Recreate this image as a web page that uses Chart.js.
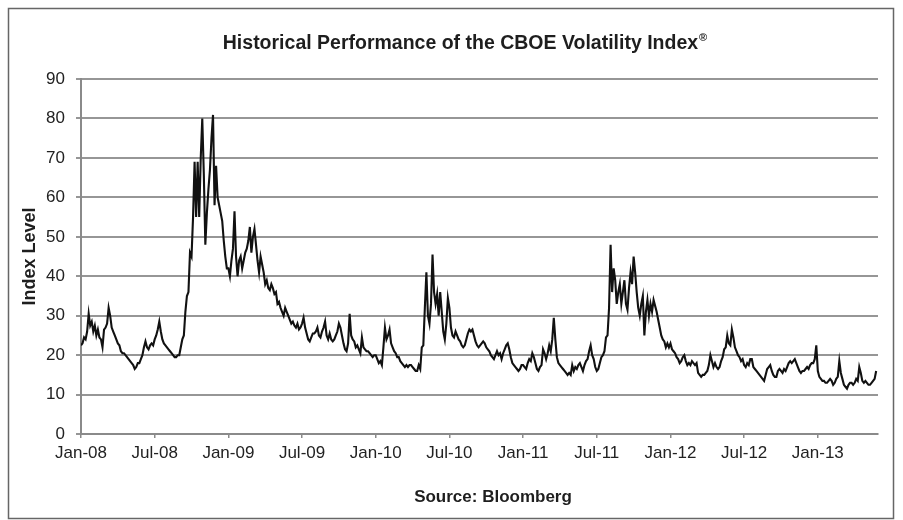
<!DOCTYPE html>
<html>
<head>
<meta charset="utf-8">
<script src="https://cdn.jsdelivr.net/npm/chart.js@4.4.0/dist/chart.umd.min.js"></script>
<style>
  html, body { margin: 0; padding: 0; background: #fff; }
</style>
</head>
<body>
<canvas id="vixChart" width="903" height="520"></canvas>
<script>
const FONT = '"Liberation Sans", Arial, sans-serif';
const chartTitle = 'Historical Performance of the CBOE Volatility Index';
const titleMark = '®';
const yTitle = 'Index Level';
const sourceNote = 'Source: Bloomberg';

// x axis: months since Jan-08, labelled every six months
const tickMonths = [0, 6, 12, 18, 24, 30, 36, 42, 48, 54, 60];
const tickLabels = ['Jan-08', 'Jul-08', 'Jan-09', 'Jul-09', 'Jan-10', 'Jul-10',
                    'Jan-11', 'Jul-11', 'Jan-12', 'Jul-12', 'Jan-13'];

// VIX readings, 8 per month
const vix2008 = [
  22.5, 23, 24.5, 24, 26, 30.5, 27.5, 28.5,
  26, 27.5, 25, 26.5, 24.5, 24, 22, 26.5,
  27, 28, 32, 30, 27, 26, 25, 24,
  23, 22.5, 21, 20.5, 20.5, 20, 19.5, 19,
  18.5, 18, 17.5, 16.5, 17, 18, 18, 19,
  20, 22, 23.5, 22, 21.5, 22.5, 23, 22.5,
  24, 25, 26.5, 28.5, 26, 24, 23, 22.5,
  22, 21.5, 21, 20.5, 20, 19.5, 19.5, 20,
  20, 22, 24, 25, 31, 35, 36, 46,
  45, 55, 69, 55, 69, 55, 70, 80,
  66, 48, 56, 62, 67, 75, 80.9, 58,
  68, 60, 58, 56, 54, 49, 45, 42
];
const vix2009 = [
  42, 40, 44, 47, 56.5, 45, 40, 44,
  45, 42, 44, 46, 47, 49, 52.5, 46,
  50, 52, 48, 44, 41, 45, 43, 41,
  38, 39, 37, 36.5, 38, 37, 35.5, 36,
  33, 33.5, 32, 31, 30, 32, 31, 30,
  29, 28, 28.5, 27.5, 27, 28, 26.5, 27,
  28, 29.5, 27, 25.5, 24, 23.5, 24.5, 25.5,
  25.5, 26, 27, 25, 24.5, 26, 27, 28.5,
  25, 24, 25.5, 24, 23.5, 24, 25, 26,
  28, 27, 25, 23, 21.5, 21, 23, 30.5,
  25, 24, 23.5, 22, 22.5, 21.5, 20.5, 24.5,
  22, 21.5, 21, 21, 20.5, 20, 19.5, 20
];
const vix2010 = [
  20, 19, 18, 18.5, 17.5, 22, 27, 24,
  25, 26.5, 23, 22, 21, 20.5, 19.5, 19.5,
  18.5, 18, 17.5, 17, 17.5, 17, 17.5, 17.5,
  17, 16.5, 16, 16, 17.5, 16.5, 22, 22.5,
  32, 41, 30, 28, 33, 45.5, 36, 33,
  35.5, 30, 36, 31, 26, 24, 28, 34.5,
  32, 27, 25, 24.5, 26, 25, 24, 23.5,
  22.5, 22, 22.5, 24, 25.5, 26.5, 26, 26.5,
  25, 23.5, 22.5, 22, 22.5, 23, 23.5, 23,
  22, 21.5, 21, 20, 19.5, 19, 20, 21,
  20, 20.5, 19, 20.5, 21.5, 22.5, 23, 21.5,
  19.5, 18, 17.5, 17, 16.5, 16, 16.5, 17.5
];
const vix2011 = [
  17.5, 17, 16.5, 18, 19, 18.5, 20.5, 19.5,
  18, 16.5, 16, 17, 17.5, 21.5, 20.5, 19,
  20.5, 22.5, 21, 24, 29.5, 24, 19.5, 18,
  17.5, 17, 16.5, 16, 15.5, 15, 15.5, 15,
  17.5, 16, 17, 16.5, 17.5, 18, 17, 16,
  17.5, 18.5, 19, 21, 22.5, 20, 19, 17,
  16, 16.5, 18, 19.5, 20, 21, 24.5, 25,
  32, 48, 36, 42, 39, 33, 36, 38,
  33, 36, 39, 33, 31.5, 37, 41, 38,
  45, 41, 36, 32, 30, 33, 35, 25,
  31, 34, 30, 33, 31, 34, 32.5, 31,
  29, 27, 25, 24, 23.5, 22, 23, 22
];
const vix2012 = [
  23, 21.5, 21, 20.5, 19.5, 19, 18, 18.5,
  19.5, 20, 18.5, 17.5, 18, 17.5, 18.5, 18,
  17.5, 18, 15.5, 15, 14.5, 15, 15, 15.5,
  16, 17.5, 20, 18.5, 17, 18, 17, 16.5,
  17, 18.5, 19.5, 21.5, 22, 25, 23, 22.5,
  26.5, 24.5, 22, 21, 20, 19.5, 18.5, 19,
  17.5, 17, 18, 17.5, 19, 19, 17, 16.5,
  16, 15.5, 15, 14.5, 14, 13.5, 15, 16.5,
  17, 17.5, 16, 15, 14.5, 14.5, 16, 16.5,
  16, 15.5, 16.5, 16, 17, 18, 18.5, 18,
  18.5, 19, 18, 17, 16, 15.5, 16, 16,
  16.5, 17, 16.5, 17.5, 18, 18, 19, 22.5
];
const vix2013 = [
  16, 14.5, 14, 13.5, 13.5, 13, 13, 13.5,
  14, 13.5, 12.5, 13, 14, 14.5, 18.5, 15.5,
  14, 12.5, 12, 11.5, 12.5, 13, 13, 12.5,
  13, 14, 13.5, 17, 15.5, 13.5, 13, 13.5,
  13, 12.5, 12.5, 13, 13.5, 14, 16
];
const yearSeries = [vix2008, vix2009, vix2010, vix2011, vix2012, vix2013];
const perMonth = 8;

const points = [];
yearSeries.forEach((vals, yi) => {
  vals.forEach((v, i) => points.push({ x: yi * 12 + i / perMonth, y: v }));
});

// where the two free-standing captions sit in the picture
const titlePos = { x: 465, y: 44 };
const sourcePos = { x: 493, y: 497 };

// white background and the thin frame round the picture
const framePlugin = {
  id: 'frame',
  beforeDraw(chart) {
    const ctx = chart.ctx;
    ctx.save();
    ctx.fillStyle = '#fff';
    ctx.fillRect(0, 0, chart.width, chart.height);
    ctx.strokeStyle = '#666';
    ctx.lineWidth = 1.5;
    ctx.strokeRect(8.5, 8.5, 885, 510);
    ctx.restore();
  }
};

// title with a raised ® and the source line under the axis
const captionPlugin = {
  id: 'captions',
  afterDraw(chart) {
    const ctx = chart.ctx;
    ctx.save();
    ctx.fillStyle = '#1e1e1e';
    ctx.textBaseline = 'middle';
    ctx.textAlign = 'left';
    ctx.font = 'bold 19.5px ' + FONT;
    const mainW = ctx.measureText(chartTitle).width;
    ctx.font = 'bold 11px ' + FONT;
    const markW = ctx.measureText(titleMark).width;
    const left = titlePos.x - (mainW + markW + 1) / 2;
    ctx.font = 'bold 19.5px ' + FONT;
    ctx.fillText(chartTitle, left, titlePos.y);
    ctx.font = 'bold 11px ' + FONT;
    ctx.fillText(titleMark, left + mainW + 1, titlePos.y - 6);
    ctx.textAlign = 'center';
    ctx.font = 'bold 17px ' + FONT;
    ctx.fillText(sourceNote, sourcePos.x, sourcePos.y);
    ctx.restore();
  }
};

new Chart(document.getElementById('vixChart'), {
  type: 'line',
  data: {
    datasets: [{
      label: 'VIX',
      data: points,
      borderColor: '#111',
      borderWidth: 2.1,
      pointRadius: 0,
      tension: 0,
      fill: false
    }]
  },
  options: {
    responsive: false,
    animation: false,
    devicePixelRatio: 1,
    layout: { padding: { left: 10, right: 25, top: 79, bottom: 51.5 } },
    plugins: {
      legend: { display: false },
      tooltip: { enabled: false },
      title: { display: false }
    },
    scales: {
      x: {
        type: 'linear',
        min: 0,
        max: 64.9,
        afterBuildTicks: scale => { scale.ticks = tickMonths.map(v => ({ value: v })); },
        ticks: {
          callback: (value, index) => tickLabels[index],
          color: '#222',
          font: { family: FONT, size: 17 },
          padding: 5,
          maxRotation: 0,
          autoSkip: false
        },
        grid: { drawOnChartArea: false, drawTicks: true, tickLength: 4, color: '#8a8a8a', lineWidth: 1.5 },
        border: { display: true, color: '#8a8a8a', width: 2 }
      },
      y: {
        min: 0,
        max: 90,
        ticks: {
          stepSize: 10,
          color: '#222',
          font: { family: FONT, size: 17 },
          padding: 11
        },
        grid: { color: '#969696', lineWidth: 2, tickLength: 5 },
        border: { display: true, color: '#8a8a8a', width: 2 },
        title: {
          display: true,
          text: yTitle,
          color: '#1e1e1e',
          font: { family: FONT, size: 18, weight: 'bold' },
          padding: { top: 9, bottom: 0 }
        },
        afterFit: scale => { scale.width = 71; }
      }
    }
  },
  plugins: [framePlugin, captionPlugin]
});
</script>
</body>
</html>
